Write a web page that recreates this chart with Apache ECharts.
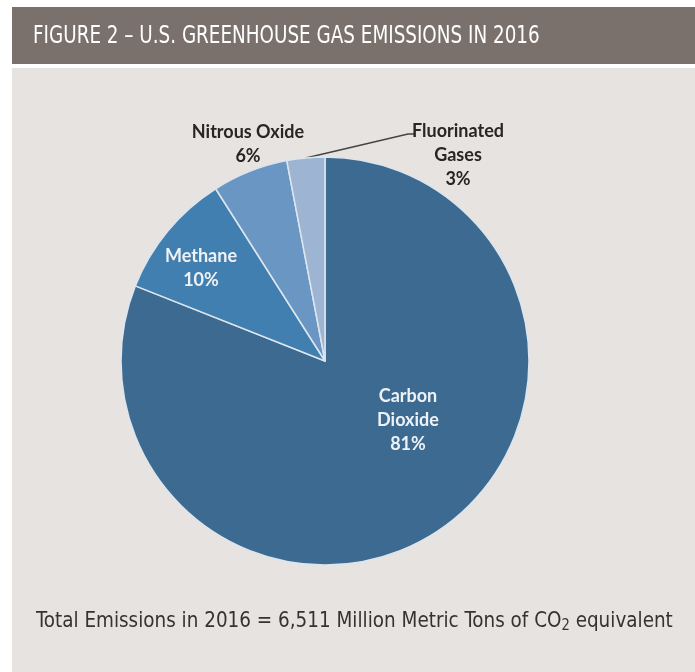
<!DOCTYPE html>
<html>
<head>
<meta charset="utf-8">
<style>
  html, body { margin: 0; padding: 0; background: #ffffff; }
  #chart { width: 695px; height: 672px; }
</style>
<script src="https://cdn.jsdelivr.net/npm/echarts@6/dist/echarts.min.js"></script>
</head>
<body>
<div id="chart"></div>
<script>
// Emission shares by gas, percent of the 2016 total
const gases = ['Carbon\nDioxide', 'Methane', 'Nitrous Oxide', 'Fluorinated\nGases'];
const shares = [81, 10, 6, 3];
const sliceColors = ['#3c6a90', '#417fb0', '#6a96c3', '#9db4d2'];

const titleText = 'FIGURE 2 – U.S. GREENHOUSE GAS EMISSIONS IN 2016';
const totalNote = 'Total Emissions in 2016 = 6,511 Million Metric Tons of CO';

const chart = echarts.init(document.getElementById('chart'), null, { renderer: 'canvas' });

const pieCenter = [325, 361];
const pieRadius = 204;
const labelFont = 'Lato, "Open Sans", sans-serif';
const narrowFont = '"DejaVu Sans Condensed", "Liberation Sans", sans-serif';

// label centres, in px
const labelSpots = [
  { x: 408, y: 420 },
  { x: 201, y: 268 },
  { x: 248, y: 144 },
  { x: 458, y: 155 }
];

// point on the rim at the middle of slice i (clockwise from 12 o'clock)
function rimPoint(i) {
  const total = shares.reduce((a, b) => a + b, 0);
  const before = shares.slice(0, i).reduce((a, b) => a + b, 0);
  const mid = (before + shares[i] / 2) / total * Math.PI * 2;
  return [pieCenter[0] + pieRadius * Math.sin(mid), pieCenter[1] - pieRadius * Math.cos(mid)];
}

chart.setOption({
  backgroundColor: '#ffffff',
  animation: false,
  graphic: [
    { type: 'rect', shape: { x: 12, y: 68, width: 683, height: 604 }, style: { fill: '#e7e3e0' }, z: -10 },
    { type: 'rect', shape: { x: 12, y: 7, width: 683, height: 57 }, style: { fill: '#7b716c' }, z: -9 },
    {
      type: 'text', x: 33, y: 25, scaleX: 0.85,
      style: { text: titleText, fill: '#ffffff', font: '24px ' + narrowFont, verticalAlign: 'top' }
    },
    {
      type: 'text', x: 36, y: 610, scaleX: 0.973,
      style: {
        text: '{m|' + totalNote + '}{s|2}{m| equivalent}',
        verticalAlign: 'top',
        rich: {
          m: { fill: '#333333', font: '21px ' + narrowFont },
          s: { fill: '#333333', font: '15px ' + narrowFont, padding: [9, 0, 0, 0] }
        }
      }
    }
  ],
  series: [{
    type: 'pie',
    center: pieCenter,
    radius: [0, pieRadius],
    startAngle: 90,
    clockwise: true,
    avoidLabelOverlap: false,
    itemStyle: { borderColor: '#dde5ee', borderWidth: 1.5 },
    label: {
      formatter: p => p.name + '\n' + p.value + '%',
      fontFamily: labelFont,
      fontWeight: 'bold',
      fontSize: 18,
      lineHeight: 24,
      align: 'center'
    },
    labelLine: { show: false },
    labelLayout: p => {
      const s = labelSpots[p.dataIndex];
      const out = { x: s.x, y: s.y, align: 'center', verticalAlign: 'middle' };
      if (p.dataIndex === 3) {
        const r = rimPoint(3);
        out.labelLinePoints = [r, [s.x - 50, 134], [s.x - 43, 134]];
      }
      return out;
    },
    data: gases.map((g, i) => {
      const item = { name: g, value: shares[i], itemStyle: { color: sliceColors[i] } };
      if (i < 2) {
        item.label = { position: 'inside', color: '#eef2f6' };
      } else {
        item.label = { position: 'outside', color: '#262626' };
        if (i === 3) {
          item.labelLine = { show: true, length: 95, length2: 10, lineStyle: { color: '#444444', width: 1.5 } };
        }
      }
      return item;
    })
  }]
});
</script>
</body>
</html>
